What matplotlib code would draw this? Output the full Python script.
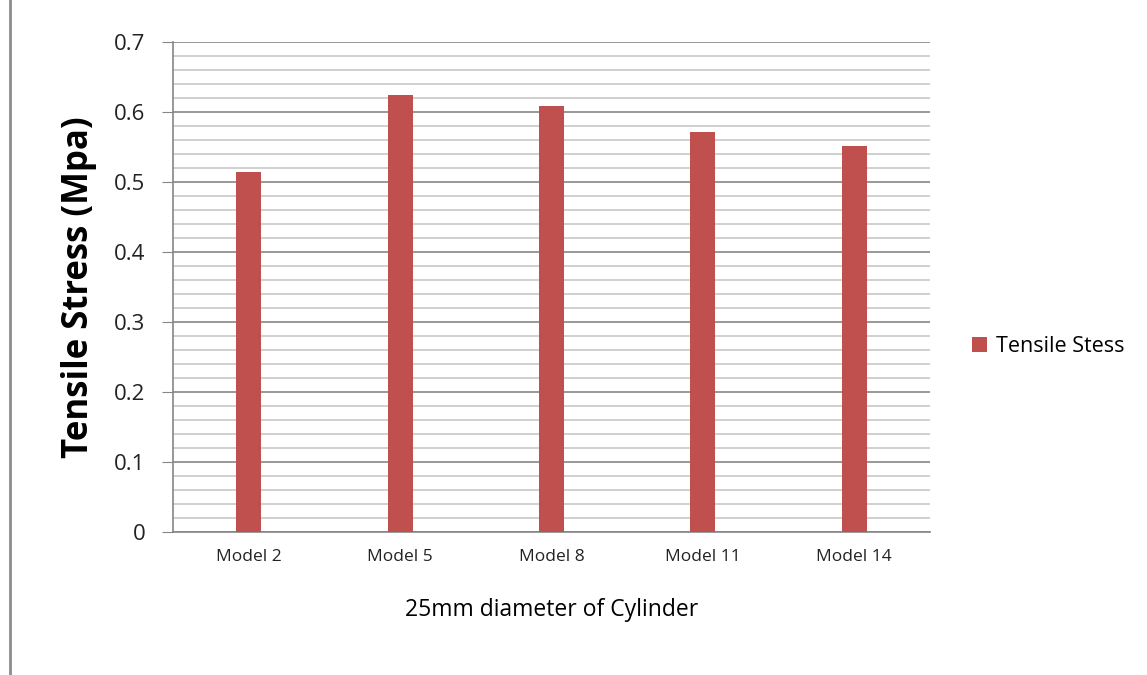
import matplotlib.pyplot as plt
import numpy as np
from matplotlib.ticker import MultipleLocator
from matplotlib.lines import Line2D

models = ['Model 2', 'Model 5', 'Model 8', 'Model 11', 'Model 14']
stress = [0.514, 0.624, 0.608, 0.571, 0.551]
yticks = [0, 0.1, 0.2, 0.3, 0.4, 0.5, 0.6, 0.7]
ylabels = ['0', '0.1', '0.2', '0.3', '0.4', '0.5', '0.6', '0.7']

plt.rcParams['font.family'] = ['Open Sans', 'DejaVu Sans']

fig = plt.figure(figsize=(11.47, 6.75), dpi=100)
ax = fig.add_axes([0.1508, 0.2119, 0.66, 0.7259])

x = np.arange(len(models))
ax.bar(x, stress, width=0.165, color='#c0504d', label='Tensile Stess', zorder=3)

ax.set_xlim(-0.5, len(models) - 0.5)
ax.set_ylim(0, 0.7)
ax.yaxis.set_minor_locator(MultipleLocator(0.02))
ax.set_yticks(yticks)
ax.set_yticklabels(ylabels, fontsize=16, color='#222222')
ax.grid(which='major', axis='y', color='#868686', linewidth=1.2, zorder=0)
ax.grid(which='minor', axis='y', color='#c8c8c8', linewidth=1.2, zorder=0)
ax.tick_params(axis='y', which='major', length=8, color='#868686', pad=12)
ax.tick_params(axis='y', which='minor', length=0)

ax.set_xticks(x)
ax.set_xticklabels(models, fontsize=12.5, color='#222222')
ax.tick_params(axis='x', length=0, pad=12)

for s in ['top', 'right']:
    ax.spines[s].set_visible(False)
for s in ['left', 'bottom']:
    ax.spines[s].set_color('#868686')
    ax.spines[s].set_linewidth(1.2)

ax.set_ylabel('Tensile Stress (Mpa)', fontsize=25, fontweight='bold', labelpad=12)
ax.set_xlabel('25mm diameter of Cylinder', fontsize=16.5, labelpad=24)

ax.legend(loc='center left', bbox_to_anchor=(1.03, 0.378), frameon=False,
          fontsize=15.5, handlelength=0.7, handleheight=0.7, handletextpad=0.4)

fig.add_artist(Line2D([0.0085, 0.0085], [0, 1], color='#8c8c8c', linewidth=2.0))

fig.savefig('out.png', dpi=100)
